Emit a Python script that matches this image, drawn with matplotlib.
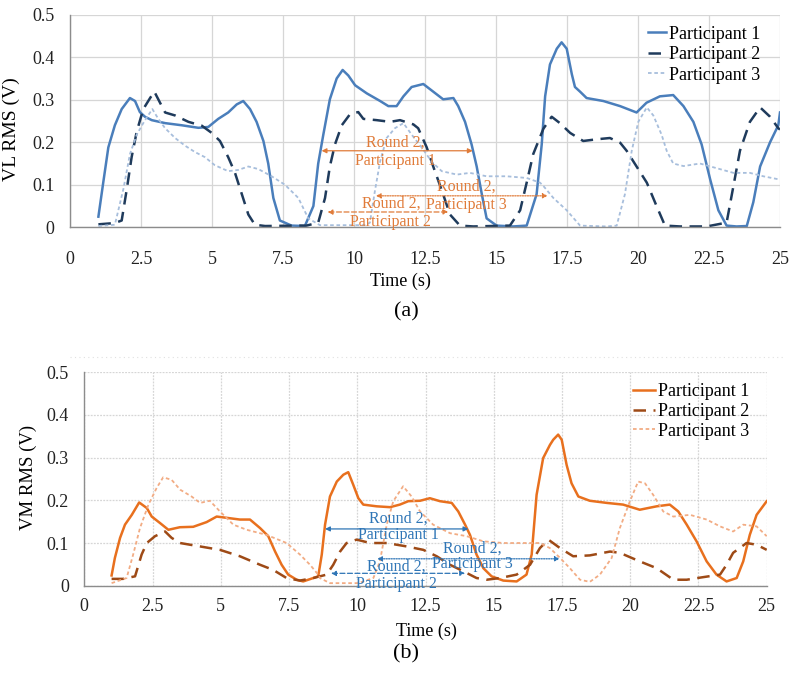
import matplotlib
matplotlib.use("Agg")
import matplotlib.pyplot as plt
from matplotlib.lines import Line2D

plt.rcParams['font.family'] = ['Liberation Serif', 'DejaVu Serif']

# ---- (a) VL RMS ----
vl_p1_t = [1.0, 1.17, 1.35, 1.58, 1.82, 2.11, 2.29, 2.46, 2.64, 2.88, 3.35, 3.93, 4.52, 4.87, 5.22,
           5.57, 5.87, 6.1, 6.34, 6.57, 6.81, 6.98, 7.16, 7.39, 7.8, 8.27, 8.57, 8.74, 8.92, 9.15,
           9.39, 9.6, 9.8, 10.04, 10.45, 10.92, 11.21, 11.5, 11.74, 12.03, 12.44, 12.79, 13.14,
           13.5, 13.67, 13.91, 14.14, 14.32, 14.5, 14.67, 15.02, 15.6, 16.08, 16.43, 16.61, 16.73,
           16.9, 17.14, 17.31, 17.49, 17.67, 17.78, 17.96, 18.19, 18.78, 19.37, 19.95, 20.3, 20.77,
           21.24, 21.6, 21.95, 22.24, 22.54, 22.83, 23.12, 23.47, 23.83, 24.06, 24.3, 24.65, 24.94, 25.0]
vl_p1_v = [0.025, 0.105, 0.188, 0.24, 0.278, 0.304, 0.297, 0.271, 0.26, 0.252, 0.245, 0.24, 0.234,
           0.236, 0.255, 0.27, 0.289, 0.297, 0.278, 0.248, 0.203, 0.15, 0.069, 0.016, 0.004, 0.003,
           0.05, 0.15, 0.218, 0.301, 0.35, 0.37, 0.357, 0.334, 0.315, 0.297, 0.285, 0.285, 0.308,
           0.33, 0.337, 0.319, 0.301, 0.304, 0.285, 0.248, 0.195, 0.143, 0.078, 0.021, 0.004, 0.002,
           0.004, 0.078, 0.195, 0.308, 0.383, 0.42, 0.435, 0.42, 0.36, 0.33, 0.319, 0.304, 0.297,
           0.285, 0.27, 0.293, 0.308, 0.311, 0.285, 0.248, 0.195, 0.113, 0.04, 0.004, 0.002, 0.003,
           0.059, 0.143, 0.2, 0.24, 0.27]

vl_p2_t = [1.0, 1.58, 1.82, 2.0, 2.17, 2.35, 2.58, 2.82, 2.97, 3.17, 3.35, 3.7, 4.17, 4.64, 4.99,
           5.28, 5.57, 5.81, 6.05, 6.28, 6.51, 6.87, 8.1, 8.33, 8.74, 8.98, 9.15, 9.33, 9.57, 9.86,
           10.15, 10.33, 10.8, 11.27, 11.62, 12.09, 12.26, 12.56, 12.79, 13.09, 13.38, 13.73, 14.2,
           15.49, 15.85, 16.08, 16.31, 16.67, 16.96, 17.25, 17.61, 18.07, 18.55, 19.01, 19.37, 19.6,
           19.95, 20.31, 20.66, 20.95, 21.48, 22.42, 23.12, 23.36, 23.59, 23.94, 24.3, 24.65, 24.94, 25.0]
vl_p2_v = [0.007, 0.01, 0.016, 0.09, 0.165, 0.225, 0.278, 0.304, 0.319, 0.293, 0.27, 0.263, 0.248,
           0.239, 0.222, 0.203, 0.165, 0.128, 0.078, 0.03, 0.006, 0.003, 0.004, 0.004, 0.011, 0.069,
           0.143, 0.195, 0.24, 0.266, 0.271, 0.255, 0.252, 0.248, 0.252, 0.242, 0.233, 0.188, 0.143,
           0.087, 0.03, 0.004, 0.002, 0.004, 0.04, 0.105, 0.172, 0.232, 0.26, 0.245, 0.222, 0.203,
           0.207, 0.21, 0.199, 0.18, 0.143, 0.105, 0.049, 0.004, 0.002, 0.002, 0.011, 0.097, 0.18,
           0.248, 0.282, 0.26, 0.233, 0.23]

vl_p3_t = [1.0, 1.58, 1.88, 2.11, 2.35, 2.64, 2.9, 3.11, 3.35, 3.7, 4.05, 4.4, 4.75, 5.1, 5.57,
           5.93, 6.28, 6.63, 7.1, 7.57, 8.04, 8.39, 8.8, 10.4, 10.56, 10.74, 10.92, 11.15, 11.44,
           11.74, 12.03, 12.38, 12.74, 13.09, 13.62, 14.08, 14.67, 15.38, 16.08, 16.55, 16.67,
           17.02, 17.49, 17.96, 18.9, 19.25, 19.54, 19.78, 20.01, 20.31, 20.54, 20.83, 21.01, 21.24,
           21.6, 22.18, 22.77, 23.36, 23.94, 24.41, 24.94, 25.0]
vl_p3_v = [0.003, 0.006, 0.09, 0.172, 0.218, 0.252, 0.278, 0.255, 0.233, 0.21, 0.192, 0.177, 0.165,
           0.146, 0.132, 0.135, 0.143, 0.137, 0.12, 0.1, 0.069, 0.021, 0.005, 0.005, 0.011, 0.087,
           0.155, 0.21, 0.233, 0.245, 0.218, 0.188, 0.154, 0.132, 0.124, 0.128, 0.12, 0.12, 0.116,
           0.105, 0.097, 0.069, 0.04, 0.004, 0.002, 0.004, 0.078, 0.18, 0.248, 0.282, 0.263, 0.218,
           0.18, 0.15, 0.144, 0.15, 0.139, 0.128, 0.128, 0.12, 0.113, 0.112]

# ---- (b) VM RMS ----
vm_p1_t = [1.0, 1.12, 1.31, 1.49, 1.74, 2.01, 2.29, 2.47, 2.77, 3.08, 3.5, 3.99, 4.48, 4.85, 5.22,
           5.7, 6.07, 6.44, 6.74, 6.99, 7.23, 7.47, 7.78, 8.02, 8.39, 8.57, 8.7, 8.82, 9.0, 9.25,
           9.49, 9.67, 9.85, 10.04, 10.22, 10.71, 11.2, 11.56, 11.87, 12.3, 12.66, 13.03, 13.46,
           13.7, 13.95, 14.13, 14.37, 14.62, 14.92, 15.35, 15.84, 16.2, 16.39, 16.57, 16.81, 17.06,
           17.18, 17.36, 17.49, 17.67, 17.85, 18.1, 18.52, 19.14, 19.74, 20.35, 20.97, 21.45, 21.76,
           22.07, 22.43, 22.8, 23.16, 23.53, 23.9, 24.14, 24.38, 24.63, 25.0]
vm_p1_v = [0.024, 0.065, 0.112, 0.143, 0.166, 0.195, 0.182, 0.162, 0.147, 0.131, 0.137, 0.138,
           0.149, 0.162, 0.159, 0.155, 0.155, 0.135, 0.116, 0.08, 0.049, 0.026, 0.014, 0.01, 0.018,
           0.022, 0.073, 0.143, 0.209, 0.244, 0.26, 0.266, 0.237, 0.205, 0.19, 0.186, 0.184, 0.19,
           0.198, 0.199, 0.205, 0.198, 0.194, 0.174, 0.143, 0.119, 0.073, 0.041, 0.022, 0.012, 0.01,
           0.026, 0.073, 0.213, 0.299, 0.33, 0.342, 0.354, 0.342, 0.283, 0.24, 0.209, 0.199, 0.194,
           0.19, 0.178, 0.186, 0.19, 0.174, 0.143, 0.104, 0.057, 0.026, 0.01, 0.018, 0.057, 0.119,
           0.166, 0.198]

vm_p2_t = [1.0, 1.42, 1.86, 2.1, 2.29, 2.59, 2.96, 3.2, 3.51, 4.24, 4.97, 5.7, 6.44, 6.92, 7.41,
           7.9, 8.39, 8.88, 9.12, 9.37, 9.61, 9.98, 10.47, 11.08, 11.81, 12.42, 12.91, 13.4, 13.88,
           14.37, 14.74, 15.23, 15.84, 16.33, 16.69, 17.0, 17.43, 17.91, 18.52, 19.26, 19.62, 20.35,
           20.97, 21.58, 22.07, 22.67, 23.29, 23.53, 23.77, 24.26, 24.63, 25.0]
vm_p2_v = [0.016, 0.016, 0.022, 0.073, 0.1, 0.116, 0.127, 0.112, 0.1, 0.092, 0.084, 0.069, 0.049,
           0.037, 0.018, 0.012, 0.018, 0.026, 0.049, 0.08, 0.1, 0.108, 0.1, 0.1, 0.092, 0.084, 0.069,
           0.049, 0.034, 0.018, 0.014, 0.018, 0.026, 0.049, 0.088, 0.108, 0.088, 0.069, 0.071, 0.08,
           0.077, 0.057, 0.041, 0.014, 0.014, 0.02, 0.026, 0.049, 0.077, 0.1, 0.096, 0.084]

vm_p3_t = [1.0, 1.55, 1.79, 2.04, 2.35, 2.65, 2.89, 3.2, 3.51, 3.93, 4.24, 4.6, 4.97, 5.46, 5.95,
           6.68, 7.41, 7.9, 8.27, 8.57, 8.63, 9.0, 10.04, 10.59, 10.83, 11.08, 11.32, 11.68, 11.99,
           12.3, 12.78, 13.4, 14.01, 14.62, 15.35, 16.08, 16.69, 17.06, 17.43, 17.79, 18.16, 18.52,
           18.89, 19.32, 19.62, 19.99, 20.29, 20.54, 20.84, 21.21, 21.58, 22.19, 22.8, 23.29, 23.77,
           24.14, 24.63, 25.0]
vm_p3_v = [0.006, 0.018, 0.073, 0.135, 0.19, 0.229, 0.254, 0.248, 0.225, 0.209, 0.194, 0.199,
           0.174, 0.143, 0.131, 0.119, 0.1, 0.073, 0.049, 0.026, 0.018, 0.006, 0.006, 0.018, 0.057,
           0.143, 0.198, 0.233, 0.209, 0.174, 0.143, 0.123, 0.116, 0.104, 0.1, 0.1, 0.1, 0.088,
           0.065, 0.041, 0.014, 0.009, 0.026, 0.065, 0.135, 0.198, 0.244, 0.24, 0.213, 0.174, 0.162,
           0.166, 0.155, 0.139, 0.127, 0.143, 0.139, 0.116]

legend_labels = ['Participant 1', 'Participant 2', 'Participant 3']
x_ticks = [0, 2.5, 5, 7.5, 10, 12.5, 15, 17.5, 20, 22.5, 25]
x_ticklabels = ['0', '2.5', '5', '7.5', '10', '12.5', '15', '17.5', '20', '22.5', '25']
y_ticks = [0, 0.1, 0.2, 0.3, 0.4, 0.5]
y_ticklabels = ['0', '0.1', '0.2', '0.3', '0.4', '0.5']

# annotation spans: (start, end, y) and text positions
vl_spans = [(8.86, 14.18, 0.18), (9.07, 13.32, 0.036), (10.77, 16.82, 0.074)]
vl_texts = [(11.45, 0.2, 0.157), (11.3, 0.055, 0.013), (13.95, 0.096, 0.053)]
vm_spans = [(8.82, 14.07, 0.133), (9.04, 13.95, 0.029), (10.73, 17.42, 0.063)]
vm_texts = [(11.5, 0.158, 0.119), (11.44, 0.045, 0.004), (14.2, 0.086, 0.05)]

W, H = 789, 677
fig = plt.figure(figsize=(W / 100, H / 100), dpi=100)
ax1 = fig.add_axes([70 / W, 1 - 227.3 / H, 710 / W, 212.6 / H])
ax2 = fig.add_axes([84.3 / W, 1 - 585.7 / H, 682.4 / W, 213.4 / H])

styles_a = [dict(color='#4a7ebb', lw=1.8, ls='-'),
            dict(color='#1f3b5c', lw=1.8, ls=(0, (5, 3))),
            dict(color='#a7bedc', lw=1.3, ls=(0, (2, 1.5)))]
styles_b = [dict(color='#e8701e', lw=1.8, ls='-'),
            dict(color='#9e4a16', lw=1.8, ls=(0, (5, 3))),
            dict(color='#f2ac84', lw=1.3, ls=(0, (2, 1.5)))]
arrow_ls = ['-', (0, (4, 2)), (0, (1, 1))]


def setup(ax, grid_ls, xpad):
    ax.set_xlim(0, 25)
    ax.set_ylim(0, 0.5)
    ax.set_xticks(x_ticks)
    ax.set_xticklabels(x_ticklabels)
    ax.set_yticks(y_ticks)
    ax.set_yticklabels(y_ticklabels)
    ax.tick_params(length=0, labelsize=13, colors='#222222')
    ax.tick_params(axis='x', pad=xpad)
    ax.tick_params(axis='y', pad=11)
    ax.grid(True, color='#d6d6d6', lw=0.9, ls=grid_ls)
    ax.set_axisbelow(True)
    for s in ['top', 'right']:
        ax.spines[s].set_visible(False)
    for s in ['left', 'bottom']:
        ax.spines[s].set_color('#8c8c8c')
        ax.spines[s].set_linewidth(1.0)


def annotate(ax, spans, texts, color):
    for (x1, x2, y), (tx, ty1, ty2), ls in zip(spans, texts, arrow_ls):
        ax.annotate('', xy=(x2, y), xytext=(x1, y),
                    arrowprops=dict(arrowstyle='<|-|>', color=color, lw=0.9, ls=ls,
                                    shrinkA=0, shrinkB=0, mutation_scale=7))
    for (tx, ty1, ty2), lab in zip(texts, ['1', '2', '3']):
        ax.text(tx, ty1, 'Round 2,', color=color, fontsize=11.5, ha='center', va='center')
        ax.text(tx, ty2, 'Participant ' + lab, color=color, fontsize=11.5, ha='center', va='center')


setup(ax1, '-', 17)
for t, v, st, lab in zip([vl_p1_t, vl_p2_t, vl_p3_t], [vl_p1_v, vl_p2_v, vl_p3_v], styles_a, legend_labels):
    ax1.plot(t, v, label=lab, **st)
annotate(ax1, vl_spans, vl_texts, '#e07b39')
ax1.set_ylabel('VL RMS (V)', fontsize=14)
ax1.yaxis.set_label_coords(-0.07, 0.46)
ax1.legend(loc='upper right', bbox_to_anchor=(0.987, 1.0), frameon=False, fontsize=13,
           handlelength=1.0, handletextpad=0.15, labelspacing=0.2, borderaxespad=0.2)

setup(ax2, (0, (1.5, 1)), 9)
for t, v, st, lab in zip([vm_p1_t, vm_p2_t, vm_p3_t], [vm_p1_v, vm_p2_v, vm_p3_v], styles_b, legend_labels):
    ax2.plot(t, v, label=lab, **st)
annotate(ax2, vm_spans, vm_texts, '#2e75b6')
ax2.set_ylabel('VM RMS (V)', fontsize=13.5)
ax2.yaxis.set_label_coords(-0.07, 0.505)
ax2.legend(loc='upper right', bbox_to_anchor=(0.99, 1.0), frameon=False, fontsize=13,
           handlelength=1.2, handletextpad=0.15, labelspacing=0.15, borderaxespad=0.2)

fig.text(400 / W, 1 - 281 / H, 'Time (s)', ha='center', va='center', fontsize=13)
fig.text(406 / W, 1 - 312 / H, '(a)', ha='center', va='center', fontsize=16)
fig.text(426 / W, 1 - 631 / H, 'Time (s)', ha='center', va='center', fontsize=13)
fig.text(406 / W, 1 - 654 / H, '(b)', ha='center', va='center', fontsize=16)

# faint chart border above panel (b)
fig.add_artist(Line2D([70 / W, 785 / W], [1 - 357 / H, 1 - 357 / H], color='#e0e0e0', lw=0.8, ls=(0, (1, 3))))

fig.savefig('out.png', dpi=100)
